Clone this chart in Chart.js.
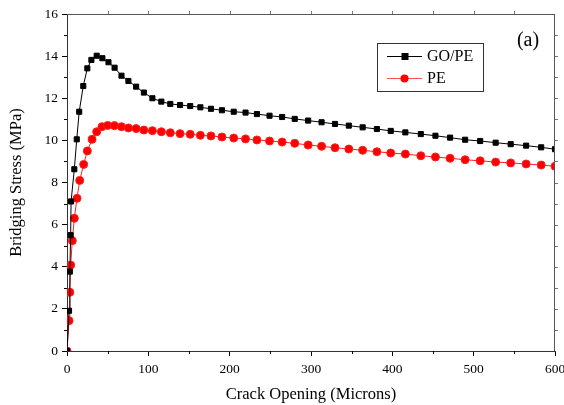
<!DOCTYPE html>
<html>
<head>
<meta charset="utf-8">
<script src="https://cdn.jsdelivr.net/npm/chart.js@4/dist/chart.umd.min.js"></script>
<style>
html,body{margin:0;padding:0;background:#fff;}
#wrap{width:564px;height:405px;position:relative;}
</style>
</head>
<body>
<div id="wrap"><canvas id="c" width="564" height="405"></canvas></div>
<script>
// Data
const goX = [0, 2.5, 3.5, 4.5, 5, 9, 12, 15, 20, 25, 30, 36.5, 43.5, 51, 58.5, 67, 75.5, 85];
const goY = [0, 1.91, 3.77, 5.5, 7.1, 8.63, 10.05, 11.36, 12.58, 13.42, 13.82, 14.02, 13.9, 13.71, 13.45, 13.07, 12.82, 12.55];
const peX = [0, 2.5, 3.5, 4.5, 6.5, 9, 12.3, 15.6, 20.5, 25, 30.8, 36.5, 43, 50, 58.3, 67, 75.5, 85];
const peY = [0, 1.44, 2.79, 4.08, 5.24, 6.3, 7.25, 8.1, 8.86, 9.5, 10.05, 10.41, 10.65, 10.71, 10.7, 10.65, 10.59, 10.56];
const tailX = [94.5, 105, 116, 127, 139, 151.5, 164, 177, 190.5, 205, 219.5, 233.5, 249, 264.5, 280, 296.5, 313, 329.5, 346.5, 363.5, 381, 398, 416, 435, 453, 471, 489.5, 508, 527, 545.5, 564.5, 583, 600];
const goTailY = [12.27, 12.0, 11.84, 11.73, 11.68, 11.63, 11.57, 11.5, 11.43, 11.36, 11.32, 11.25, 11.17, 11.11, 11.02, 10.94, 10.86, 10.78, 10.70, 10.62, 10.54, 10.45, 10.38, 10.3, 10.22, 10.13, 10.03, 9.97, 9.89, 9.82, 9.75, 9.67, 9.58];
const peTailY = [10.49, 10.46, 10.41, 10.36, 10.32, 10.29, 10.24, 10.21, 10.16, 10.11, 10.07, 10.02, 9.97, 9.92, 9.86, 9.78, 9.72, 9.65, 9.59, 9.53, 9.46, 9.4, 9.35, 9.27, 9.21, 9.15, 9.08, 9.03, 8.97, 8.93, 8.88, 8.83, 8.77];
const seriesNames = ['GO/PE', 'PE'];
const xTicks = [0, 100, 200, 300, 400, 500, 600];
const yTicks = [0, 2, 4, 6, 8, 10, 12, 14, 16];

function pts(xs, ys){ return xs.map((x,i)=>({x:x, y:ys[i]})); }
const goData = pts(goX.concat(tailX), goY.concat(goTailY));
const peData = pts(peX.concat(tailX), peY.concat(peTailY));

const FONT = "'Liberation Serif', 'Times New Roman', serif";

const frame = {
  id:'frame',
  afterDraw(chart){
    const {ctx, chartArea:a, scales:{x, y}} = chart;
    ctx.save();
    ctx.lineWidth = 1;
    // top & right frame
    ctx.strokeStyle = '#555';
    ctx.beginPath();
    ctx.moveTo(a.left, a.top+0.5); ctx.lineTo(a.right, a.top+0.5);
    ctx.moveTo(a.right-0.5, a.top); ctx.lineTo(a.right-0.5, a.bottom);
    ctx.stroke();
    // minor ticks bottom & left
    ctx.strokeStyle = '#000';
    ctx.beginPath();
    for (let v = 50; v < 600; v += 100){
      const px = Math.round(x.getPixelForValue(v))+0.5;
      ctx.moveTo(px, a.bottom); ctx.lineTo(px, a.bottom+3);
    }
    for (let v = 1; v < 16; v += 2){
      const py = Math.round(y.getPixelForValue(v))+0.5;
      ctx.moveTo(a.left, py); ctx.lineTo(a.left-3, py);
    }
    ctx.stroke();
    // mirror ticks top & right
    ctx.strokeStyle = '#777';
    ctx.beginPath();
    for (let v = 50; v < 600; v += 50){
      const px = Math.round(x.getPixelForValue(v))+0.5;
      ctx.moveTo(px, a.top); ctx.lineTo(px, a.top-3);
    }
    for (let v = 1; v < 16; v += 1){
      const py = Math.round(y.getPixelForValue(v))+0.5;
      ctx.moveTo(a.right, py); ctx.lineTo(a.right+3, py);
    }
    ctx.stroke();

    // legend
    const lx = 377, ly = 43, lw = 106, lh = 48;
    ctx.strokeStyle = '#333';
    ctx.strokeRect(lx+0.5, ly+0.5, lw, lh);
    const items = [
      {name: seriesNames[0], color:'#000', line:'#000', shape:'rect', yy:56},
      {name: seriesNames[1], color:'#ff0000', line:'#ff5050', shape:'circle', yy:78}
    ];
    items.forEach(it=>{
      ctx.strokeStyle = it.line;
      ctx.lineWidth = 1;
      ctx.beginPath(); ctx.moveTo(387, it.yy+0.5); ctx.lineTo(422, it.yy+0.5); ctx.stroke();
      ctx.fillStyle = it.color;
      if (it.shape === 'rect') ctx.fillRect(401.5, it.yy-3, 7, 7);
      else { ctx.beginPath(); ctx.arc(404.5, it.yy+0.5, 4, 0, Math.PI*2); ctx.fill(); }
      ctx.fillStyle = '#000';
      ctx.font = "16px " + FONT;
      ctx.textBaseline = 'middle';
      ctx.textAlign = 'left';
      ctx.fillText(it.name, 427, it.yy+1);
    });
    // panel label
    ctx.font = "20px " + FONT;
    ctx.fillStyle = '#000';
    ctx.textAlign = 'center';
    ctx.textBaseline = 'middle';
    ctx.fillText('(a)', 528, 41);
    ctx.restore();
  }
};

new Chart(document.getElementById('c'), {
  type:'scatter',
  data:{
    datasets:[
      {label:seriesNames[0], data:goData, showLine:true, borderColor:'#000', backgroundColor:'#000',
       borderWidth:1, pointStyle:'rect', pointRadius:3.6, pointHoverRadius:3.6, tension:0},
      {label:seriesNames[1], data:peData, showLine:true, borderColor:'#ff2020', backgroundColor:'#ff0000',
       borderWidth:1, pointStyle:'circle', pointRadius:4, pointHoverRadius:4, tension:0}
    ]
  },
  options:{
    responsive:false,
    animation:false,
    events:[],
    layout:{padding:{top:14, right:9, left:0, bottom:0}},
    plugins:{legend:{display:false}, tooltip:{enabled:false}},
    scales:{
      x:{
        type:'linear', min:0, max:600,
        afterBuildTicks(s){ s.ticks = xTicks.map(v=>({value:v})); },
        afterFit(s){ s.height = 54; s.paddingLeft = 0; s.paddingRight = 0; },
        ticks:{color:'#000', font:{family:FONT, size:13.5}, padding:5, maxRotation:0},
        grid:{drawOnChartArea:false, tickLength:5, color:'#000'},
        border:{color:'#333', width:1},
        title:{display:true, text:'Crack Opening (Microns)', color:'#000', font:{family:FONT, size:16.5}, padding:{top:0, bottom:0}}
      },
      y:{
        type:'linear', min:0, max:16,
        afterBuildTicks(s){ s.ticks = yTicks.map(v=>({value:v})); },
        afterFit(s){ s.width = 67; s.paddingTop = 0; s.paddingBottom = 0; },
        ticks:{color:'#000', font:{family:FONT, size:13.5}, padding:4},
        grid:{drawOnChartArea:false, tickLength:5, color:'#000'},
        border:{color:'#333', width:1},
        title:{display:true, text:'Bridging Stress (MPa)', color:'#000', font:{family:FONT, size:16.5}, padding:{top:7, bottom:0}}
      }
    }
  },
  plugins:[frame]
});
</script>
</body>
</html>
